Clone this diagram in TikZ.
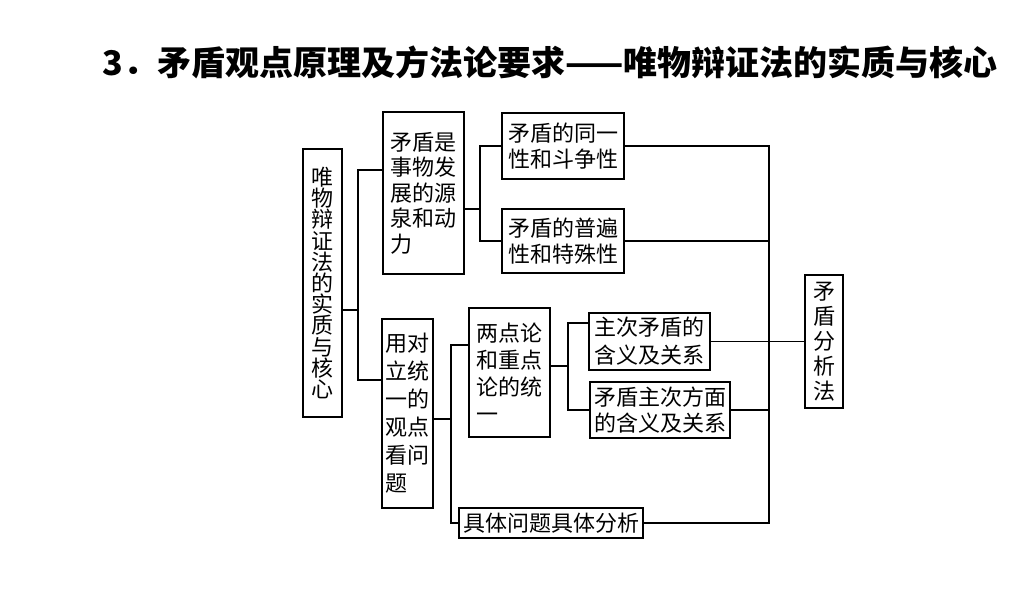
\documentclass[tikz,border=0pt]{standalone}
\usepackage{fontspec}
\setmainfont{Noto Sans CJK SC}
\tikzset{
  box/.style={draw, line width=1.5pt, inner sep=0pt, align=left},
  link/.style={line width=1.5pt}
}
\newcommand{\boxfont}[1]{\fontsize{22}{#1}\selectfont}
\begin{document}
\begin{tikzpicture}[x=1pt,y=-1pt]
\useasboundingbox (0,0) rectangle (1010,607);
\node[font=\bfseries\fontsize{34}{34}\selectfont] (title) at (550,62) {3．矛盾观点原理及方法论要求——唯物辩证法的实质与核心};
\node[box, minimum width=39pt, minimum height=268pt, font=\boxfont{21.2}] (core) at (322.5,283) {唯\\物\\辩\\证\\法\\的\\实\\质\\与\\核\\心};
\node[box, minimum width=81pt, minimum height=162pt, font=\boxfont{25.5}] (source) at (423.5,193) {矛盾是\\事物发\\展的源\\泉和动\\力};
\node[box, minimum width=122pt, minimum height=66pt, font=\boxfont{26}] (ident) at (563,146) {矛盾的同一\\性和斗争性};
\node[box, minimum width=122pt, minimum height=64pt, font=\boxfont{26}] (univ) at (563,241) {矛盾的普遍\\性和特殊性};
\node[box, minimum width=51pt, minimum height=189pt, font=\boxfont{28}] (unity) at (407.5,413.5) {用对\\立统\\一的\\观点\\看问\\题};
\node[box, minimum width=81pt, minimum height=129pt, font=\boxfont{27}] (twop) at (509.5,372.5) {两点论\\和重点\\论的统\\一};
\node[box, minimum width=121pt, minimum height=57pt, font=\boxfont{28}] (main) at (649.5,341.5) {主次矛盾的\\含义及关系};
\node[box, minimum width=140pt, minimum height=56pt, font=\boxfont{26}] (aspect) at (660,410) {矛盾主次方面\\的含义及关系};
\node[box, minimum width=184pt, minimum height=30pt, font=\boxfont{26}] (concrete) at (551,523) {具体问题具体分析};
\node[box, minimum width=38pt, minimum height=133pt, font=\boxfont{25}] (method) at (824,341.5) {矛\\盾\\分\\析\\法};
\coordinate (ab) at (358,310);
\coordinate (ab1) at (358,170);
\coordinate (ab2) at (358,380);
\coordinate (bc) at (480,209);
\coordinate (ef) at (451,419);
\coordinate (ef1) at (451,345);
\coordinate (fg) at (568,366);
\coordinate (fg1) at (568,323);
\coordinate (rtop) at (769,146);
\coordinate (rbot) at (769,523);
\draw[link] (core.east |- ab) -- (ab);
\draw[link] (source.west |- ab1) -- (ab1) -- (ab2) -- (unity.west |- ab2);
\draw[link] (source.east |- bc) -- (bc);
\draw[link] (ident.west) -| (bc) |- (univ.west);
\draw[link] (unity.east |- ef) -- (ef);
\draw[link] (twop.west |- ef1) -- (ef1) -- (ef) |- (concrete.west);
\draw[link] (twop.east |- fg) -- (fg);
\draw[link] (main.west |- fg1) -- (fg1) -- (fg) |- (aspect.west);
\draw[link] (ident.east) -- (rtop) -- (rbot) -- (concrete.east);
\draw[link] (univ.east) -- (univ.east -| rtop);
\draw[link] (aspect.east) -- (aspect.east -| rtop);
\draw[link] (main.east) -- (method.west);
\end{tikzpicture}
\end{document}
